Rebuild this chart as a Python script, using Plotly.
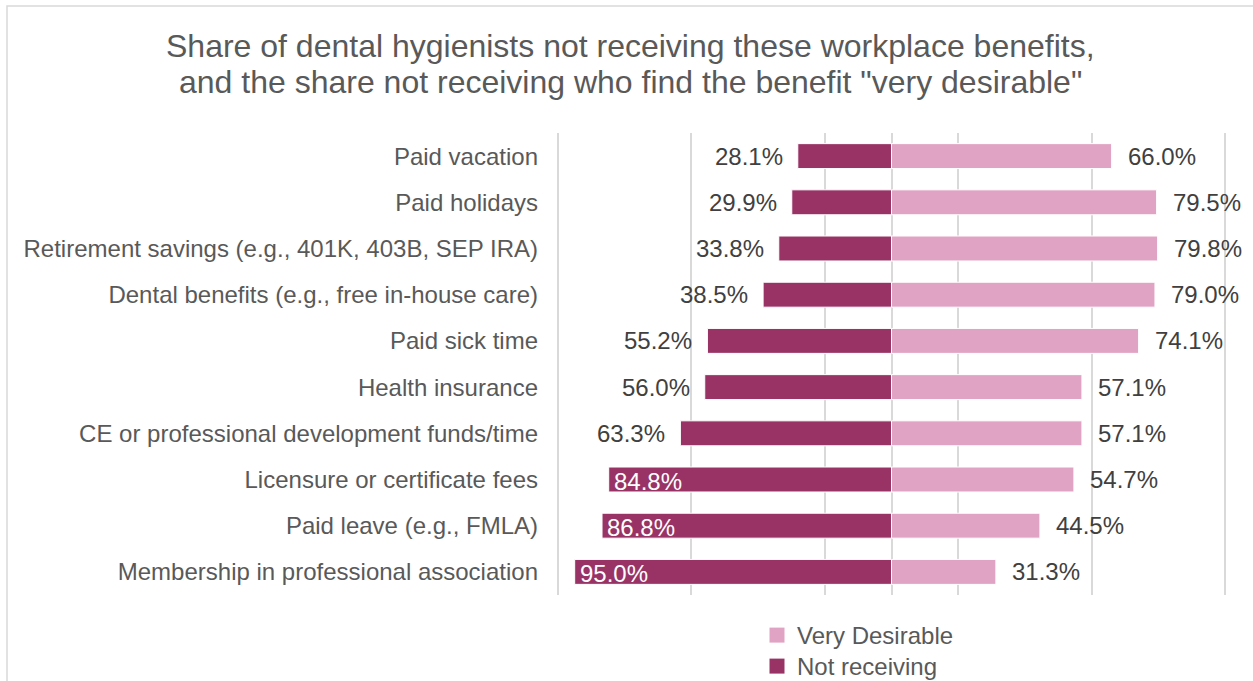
import plotly.graph_objects as go

categories = [
    "Paid vacation",
    "Paid holidays",
    "Retirement savings (e.g., 401K, 403B, SEP IRA)",
    "Dental benefits (e.g., free in-house care)",
    "Paid sick time",
    "Health insurance",
    "CE or professional development funds/time",
    "Licensure or certificate fees",
    "Paid leave (e.g., FMLA)",
    "Membership in professional association",
]
not_receiving = [28.1, 29.9, 33.8, 38.5, 55.2, 56.0, 63.3, 84.8, 86.8, 95.0]
very_desirable = [66.0, 79.5, 79.8, 79.0, 74.1, 57.1, 57.1, 54.7, 44.5, 31.3]
tick_vals = [-1.0, -0.6, -0.2, 0.2, 0.6, 1.0]
title_lines = [
    "Share of dental hygienists not receiving these workplace benefits,",
    "and the share not receiving who find the benefit \"very desirable\"",
]
series_names = ["Very Desirable", "Not receiving"]

DARK = "#993366"
LIGHT = "#E1A3C3"
TXT = "#404040"
GRAY = "#595959"
FONT = "Liberation Sans, Arial, sans-serif"
FS = 24

W, H = 1253, 681
L, R, T, B = 554, 24, 133, 86
pw, ph = W - L - R, H - T - B

fig = go.Figure()
fig.add_trace(go.Bar(
    y=categories, x=[v / 100 for v in very_desirable], orientation="h",
    name=series_names[0], marker=dict(color=LIGHT, line=dict(color="white", width=1)),
    hoverinfo="skip", showlegend=False,
))
fig.add_trace(go.Bar(
    y=categories, x=[-v / 100 for v in not_receiving], orientation="h",
    name=series_names[1], marker=dict(color=DARK, line=dict(color="white", width=1)),
    hoverinfo="skip", showlegend=False,
))
# legend entries (square swatches)
for name, col, lg in zip(series_names, [LIGHT, DARK], ["legend", "legend2"]):
    fig.add_trace(go.Scatter(
        x=[None], y=[None], mode="markers", name=name, legend=lg,
        marker=dict(symbol="square", size=15, color=col), showlegend=True,
        hoverinfo="skip",
    ))

ann = []
for c, v in zip(categories, very_desirable):
    ann.append(dict(x=v / 100, y=c, text=f"{v:.1f}%", showarrow=False,
                    xanchor="left", xshift=14, font=dict(size=FS, color=TXT, family=FONT)))
for c, v in zip(categories, not_receiving):
    if v > 80:
        ann.append(dict(x=-v / 100, y=c, text=f"{v:.1f}%", showarrow=False,
                        xanchor="left", xshift=3, yshift=-2,
                        font=dict(size=FS, color="white", family=FONT)))
    else:
        ann.append(dict(x=-v / 100, y=c, text=f"{v:.1f}%", showarrow=False,
                        xanchor="right", xshift=-13, font=dict(size=FS, color=TXT, family=FONT)))

for line, yc in zip(title_lines, [46, 82]):
    ann.append(dict(xref="paper", yref="paper", x=(630 - L) / pw, y=(H - B - yc) / ph,
                    xanchor="center", yanchor="middle", text=line, showarrow=False,
                    font=dict(size=32, color=GRAY, family=FONT)))

legend_common = dict(orientation="v", xref="container", yref="container",
                     x=757 / W, xanchor="left", yanchor="top",
                     font=dict(size=FS, color=GRAY, family=FONT),
                     itemwidth=30, bgcolor="rgba(0,0,0,0)")

fig.update_layout(
    width=W, height=H,
    margin=dict(l=L, r=R, t=T, b=B, autoexpand=False),
    paper_bgcolor="white", plot_bgcolor="white",
    barmode="relative", bargap=0.46,
    font=dict(family=FONT, color=GRAY, size=FS),
    xaxis=dict(range=[-1.012, 1.012], tickvals=tick_vals, showticklabels=False,
               showgrid=True, gridcolor="#D9D9D9", gridwidth=1.5,
               zeroline=True, zerolinecolor="#D9D9D9", zerolinewidth=1.5,
               showline=False, fixedrange=True),
    yaxis=dict(categoryorder="array", categoryarray=categories, autorange="reversed",
               showgrid=False, showline=False, zeroline=False, ticks="",
               ticklabelstandoff=15, tickfont=dict(size=FS, color=GRAY, family=FONT),
               fixedrange=True),
    legend=dict(**legend_common, y=1 - 613 / H),
    legend2=dict(**legend_common, y=1 - 644 / H),
    annotations=ann,
    shapes=[dict(type="rect", xref="paper", yref="paper",
                 x0=(7 - L) / pw, x1=(W + 20 - L) / pw,
                 y0=(H - B - (H + 20)) / ph, y1=(H - B - 6) / ph,
                 line=dict(color="#D9D9D9", width=1.5), fillcolor="rgba(0,0,0,0)", layer="below")],
    showlegend=True,
)

fig.write_html("out.html", config={"displayModeBar": False},
               post_script="document.body.style.margin='0px';")
